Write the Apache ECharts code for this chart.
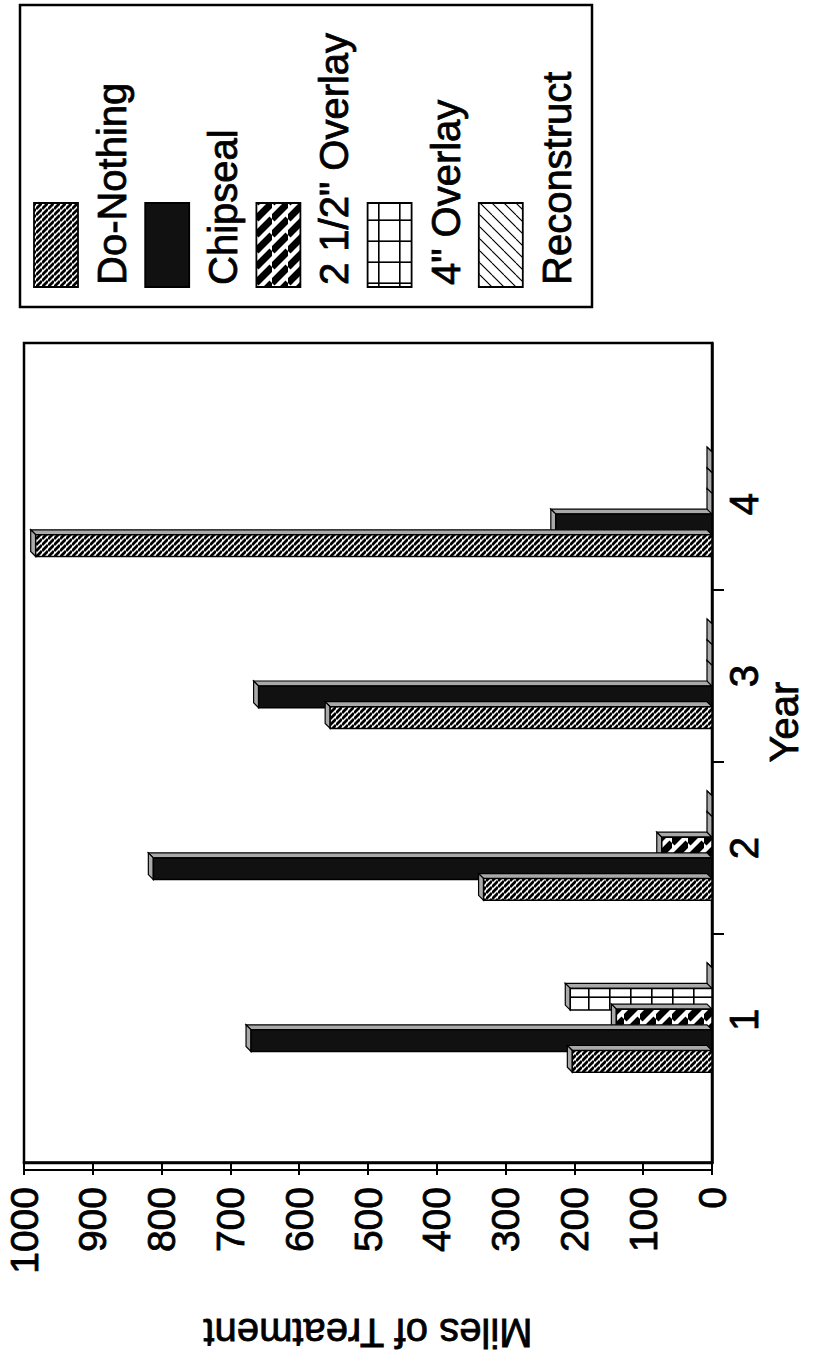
<!DOCTYPE html>
<html>
<head>
<meta charset="utf-8">
<script src="https://cdn.jsdelivr.net/npm/echarts@6/dist/echarts.min.js"></script>
<style>
  html, body { margin: 0; padding: 0; background: #fff; overflow: hidden; width: 825px; height: 1355px; }
  /* The chart is laid out in landscape and turned a quarter turn to sit on the portrait page. */
  #chart { position: absolute; left: 0; top: 0; width: 1355px; height: 825px;
           transform-origin: 0 0; transform: translate(0, 1355px) rotate(-90deg); }
</style>
</head>
<body>
<div id="chart"></div>
<script>
// ---- data ----
const yearLabels = ['1', '2', '3', '4'];
const yearPositions = [1, 2, 3, 4];
const seriesNames = ['Do-Nothing', 'Chipseal', '2 1/2" Overlay', '4" Overlay', 'Reconstruct'];
const doNothing    = [203, 332, 555, 983];
const chipseal     = [670, 812, 659, 227];
const overlay2half = [139, 73, 0, 0];
const overlay4     = [206, 0, 0, 0];
const reconstruct  = [0, 0, 0, 0];
const milesMin = 0, milesMax = 1000, milesStep = 100;

// ---- fill patterns ----
function hatch(size, lw, dir) {
  const c = document.createElement('canvas');
  c.width = c.height = size;
  const g = c.getContext('2d');
  g.fillStyle = '#fff'; g.fillRect(0, 0, size, size);
  g.strokeStyle = '#000'; g.lineWidth = lw;
  g.beginPath();
  for (let k = -1; k <= 1; k++) {
    if (dir === 'down') { g.moveTo(k * size, 0); g.lineTo(k * size + size, size); }
    else { g.moveTo(k * size, size); g.lineTo(k * size + size, 0); }
  }
  g.stroke();
  return { image: c, repeat: 'repeat', imageWidth: size, imageHeight: size };
}
function grid(size, lw) {
  const c = document.createElement('canvas');
  c.width = c.height = size;
  const g = c.getContext('2d');
  g.fillStyle = '#fff'; g.fillRect(0, 0, size, size);
  g.fillStyle = '#000';
  g.fillRect(0, 0, size, lw); g.fillRect(0, 0, lw, size);
  return { image: c, repeat: 'repeat', imageWidth: size, imageHeight: size };
}
const fills = [
  hatch(6, 2.8, 'down'),   // Do-Nothing
  '#111',                   // Chipseal
  hatch(16, 7, 'down'),    // 2 1/2" Overlay
  grid(21, 1.6),           // 4" Overlay
  hatch(12, 1.2, 'up')     // Reconstruct
];
const FACE = '#a9a9a9';
const seriesValues = [doNothing, chipseal, overlay2half, overlay4, reconstruct];

// ---- 3D bar geometry (in year units / px) ----
const BAR_PITCH = 0.1204, BAR_W = 0.1262, DEPTH = 5;
const FONT = "'Liberation Sans', Arial, Helvetica, sans-serif";
// heavy print look: a thin outline around every glyph
const INK = { color: '#000', fontFamily: FONT, textBorderColor: '#000', textBorderWidth: 0.8 };

function barSeries(idx) {
  const off = (idx - 2) * BAR_PITCH;
  const fill = fills[idx];
  return {
    type: 'custom',
    name: seriesNames[idx],
    z: 10 - idx,
    data: yearPositions.map((p, k) => [p, seriesValues[idx][k]]),
    encode: { x: 0, y: 1 },
    renderItem(params, api) {
      const x = api.value(0) + off, v = api.value(1);
      const tl = api.coord([x - BAR_W / 2, v]);
      const br = api.coord([x + BAR_W / 2, 0]);
      const x0 = tl[0], x1 = br[0], y0 = tl[1], y1 = br[1], d = DEPTH;
      const face = { fill: FACE, stroke: '#000', lineWidth: 1.2 };
      const children = [
        { type: 'polygon', shape: { points: [[x1, y0], [x1 + d, y0 - d], [x1 + d, y1 - d], [x1, y1]] }, style: face },
        { type: 'polygon', shape: { points: [[x0, y0], [x0 + d, y0 - d], [x1 + d, y0 - d], [x1, y0]] }, style: face }
      ];
      if (y1 - y0 > 0.5) {
        children.push({ type: 'rect', shape: { x: x0, y: y0, width: x1 - x0, height: y1 - y0 },
                        style: { fill: fill, stroke: '#000', lineWidth: 1.5 } });
      }
      return { type: 'group', children };
    }
  };
}

// ---- legend box: swatch above each label ----
const legendEls = [
  { type: 'rect', shape: { x: 1048, y: 20, width: 302, height: 572 },
    style: { fill: '#fff', stroke: '#000', lineWidth: 2.5 } }
];
seriesNames.forEach((name, i) => {
  const top = 34 + i * 111.2;
  legendEls.push({ type: 'rect', shape: { x: 1068, y: top, width: 84, height: 44 },
                   style: { fill: fills[i], stroke: '#000', lineWidth: 1.8 } });
  legendEls.push({ type: 'text', x: 1070, y: top + 78,
                   style: { text: name, fill: '#000', font: "40px " + FONT, verticalAlign: 'middle', align: 'left',
                            stroke: '#000', lineWidth: 0.8 } });
});

const chart = echarts.init(document.getElementById('chart'), null, { renderer: 'svg', width: 1355, height: 825 });
chart.setOption({
  animation: false,
  backgroundColor: '#fff',
  grid: { left: 192, right: 343, top: 24, bottom: 113, show: true, borderColor: '#000', borderWidth: 2.5,
          outerBoundsMode: 'none' },
  xAxis: {
    type: 'value', min: 0.168, max: 4.938, position: 'bottom',
    axisLine: { show: true, onZero: false, lineStyle: { color: '#000', width: 2.5 } },
    axisTick: { show: true, customValues: [1.5, 2.5, 3.5], length: 12, lineStyle: { color: '#000', width: 2 } },
    axisLabel: Object.assign({ customValues: yearPositions, formatter: v => yearLabels[yearPositions.indexOf(Math.round(v))],
                 margin: 12, fontSize: 40 }, INK),
    splitLine: { show: false },
    name: 'Year', nameLocation: 'middle', nameGap: 52, nameMoveOverlap: false,
    nameTextStyle: Object.assign({ fontSize: 40, padding: [0, 0, 0, 62] }, INK)
  },
  yAxis: [{
    type: 'value', min: milesMin, max: milesMax, interval: milesStep,
    axisLine: { show: true, lineStyle: { color: '#000', width: 2.5 } },
    axisTick: { show: true, length: 12, lineStyle: { color: '#000', width: 2 } },
    axisLabel: Object.assign({ margin: 24, fontSize: 39, formatter: v => String(v) }, INK),
    splitLine: { show: false },
    name: 'Miles of Treatment', nameLocation: 'middle', nameGap: 150, nameRotate: 90, nameMoveOverlap: false,
    nameTextStyle: Object.assign({ fontSize: 40 }, INK)
  }, {
    type: 'value', min: milesMin, max: milesMax, position: 'left', offset: 7,
    axisLine: { show: true, lineStyle: { color: '#000', width: 2 } },
    axisTick: { show: false }, axisLabel: { show: false }, splitLine: { show: false }
  }],
  graphic: { elements: legendEls },
  series: [0, 1, 2, 3, 4].map(barSeries)
});
</script>
</body>
</html>
